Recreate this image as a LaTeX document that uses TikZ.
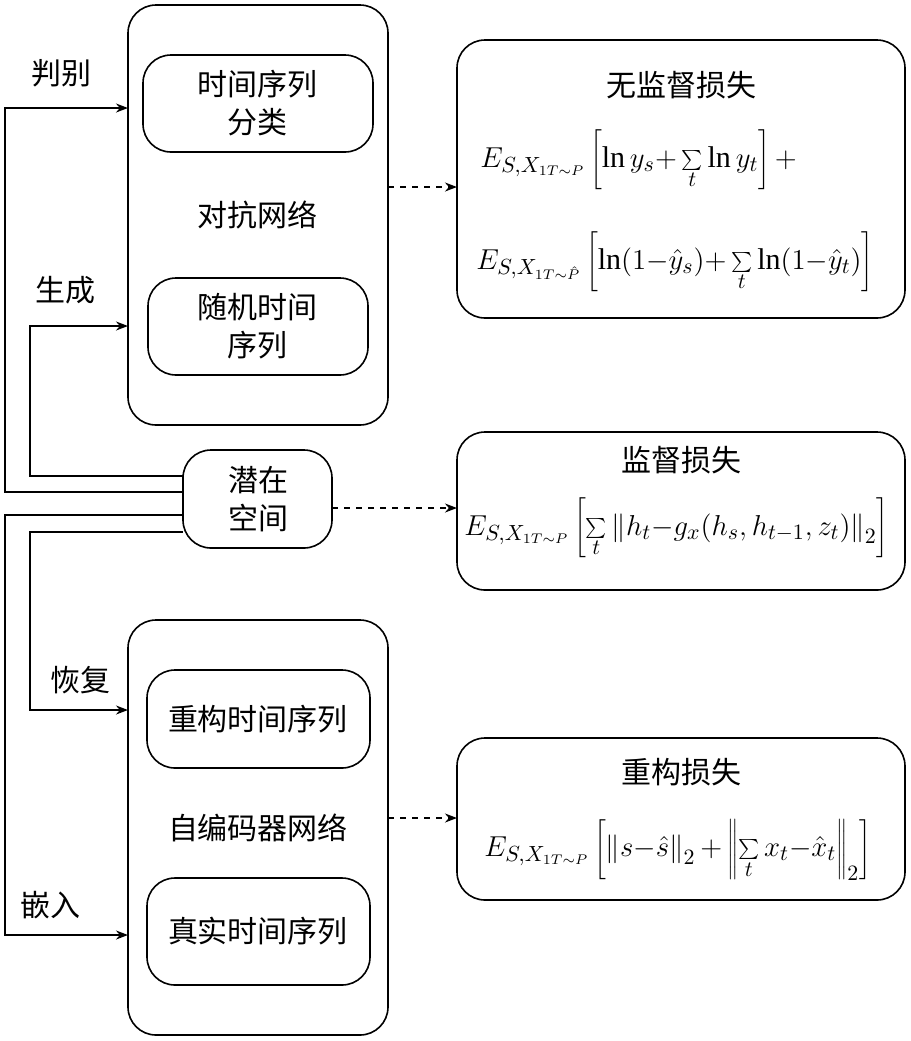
\documentclass[tikz,border=0pt]{standalone}
\usepackage{fontspec}
\setmainfont{Liberation Serif}
\newfontfamily\cjk{Noto Sans CJK SC}
\usetikzlibrary{arrows.meta}
\begin{document}
\begin{tikzpicture}[x=0.5pt,y=-0.5pt,
  box/.style={draw,thick,rounded corners=14pt,inner sep=0pt},
  lbl/.style={font=\cjk\fontsize{15}{19}\selectfont,align=center},
  fm/.style={font=\fontsize{15}{18}\selectfont,inner sep=1pt},
  arr/.style={-{Stealth[length=6pt]},thick},
  darr/.style={-{Stealth[length=6pt]},thick,dashed}]
\useasboundingbox (0,0) rectangle (911,1041);
% big boxes
\draw[box] (128,5) rectangle (388,425);
\node[lbl] (adv) at (258,215) {对抗网络};
\draw[box] (143,55) rectangle (373,152);
\node[lbl] (cls) at (258,103) {时间序列\\分类};
\draw[box] (148,278) rectangle (368,375);
\node[lbl] (rnd) at (258,326) {随机时间\\序列};
\draw[box] (183,450) rectangle (332,548);
\node[lbl] (lat) at (258,499) {潜在\\空间};
\draw[box] (128,620) rectangle (388,1035);
\draw[box] (147,670) rectangle (370,768);
\node[lbl] (rec) at (258,719) {重构时间序列};
\node[lbl] (ae) at (258,828) {自编码器网络};
\draw[box] (147,878) rectangle (370,985);
\node[lbl] (real) at (258,931) {真实时间序列};
% right boxes
\draw[box] (457,40) rectangle (905,318);
\node[lbl] (t1) at (681,85) {无监督损失};
\node[fm,anchor=west] (f1) at (478,160) {$E_{S,X_{1T\sim P}}\left[\ln y_s{+}\sum\limits_t\ln y_t\right]+$};
\node[fm,anchor=west] (f2) at (474,262) {$E_{S,X_{1T\sim \hat P}}\left[\ln(1{-}\hat y_s){+}\sum\limits_t\ln(1{-}\hat y_t)\right]$};
\draw[box] (457,432) rectangle (905,590);
\node[lbl] (t2) at (681,460) {监督损失};
\node[fm,anchor=west] (f3) at (462,528) {$E_{S,X_{1T\sim P}}\left[\sum\limits_t\left\|h_t{-}g_x(h_s,h_{t-1},z_t)\right\|_2\right]$};
\draw[box] (457,738) rectangle (905,900);
\node[lbl] (t3) at (681,772) {重构损失};
\node[fm,anchor=west] (f4) at (482,850) {$E_{S,X_{1T\sim P}}\left[\left\|s{-}\hat s\right\|_2{+}\left\|\sum\limits_t x_t{-}\hat x_t\right\|_2\right]$};
% coordinates
\coordinate (a1) at (183,492); \coordinate (a2) at (5,492); \coordinate (a3) at (5,108); \coordinate (a4) at (128,108);
\coordinate (b1) at (183,476); \coordinate (b2) at (30,476); \coordinate (b3) at (30,326); \coordinate (b4) at (128,326);
\coordinate (c1) at (183,515); \coordinate (c2) at (5,515); \coordinate (c3) at (5,935); \coordinate (c4) at (128,935);
\coordinate (d1) at (183,532); \coordinate (d2) at (30,532); \coordinate (d3) at (30,710); \coordinate (d4) at (128,710);
\draw[arr] (a1)--(a2)--(a3)--(a4);
\draw[arr] (b1)--(b2)--(b3)--(b4);
\draw[arr] (c1)--(c2)--(c3)--(c4);
\draw[arr] (d1)--(d2)--(d3)--(d4);
\node[lbl] (l1) at (62,73) {判别};
\node[lbl] (l2) at (65,290) {生成};
\node[lbl] (l3) at (80,680) {恢复};
\node[lbl] (l4) at (50,905) {嵌入};
% dashed
\coordinate (e1) at (388,187); \coordinate (e2) at (457,187);
\coordinate (g1) at (332,508); \coordinate (g2) at (457,508);
\coordinate (h1) at (388,818); \coordinate (h2) at (457,818);
\draw[darr] (e1)--(e2);
\draw[darr] (g1)--(g2);
\draw[darr] (h1)--(h2);
\end{tikzpicture}
\end{document}
